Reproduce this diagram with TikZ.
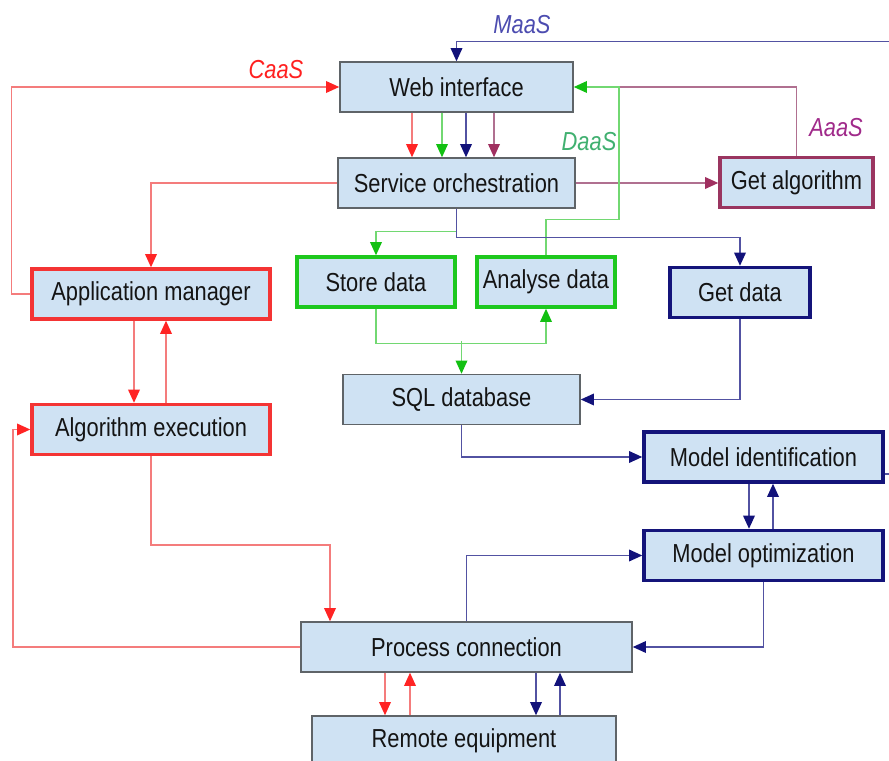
\documentclass[tikz,border=0pt]{standalone}
\usepackage{fontspec}
\setmainfont{Liberation Sans}[FakeStretch=0.84]
\usetikzlibrary{arrows.meta,calc}

\definecolor{boxfill}{HTML}{CFE2F3}
\definecolor{boxgray}{HTML}{5F6468}
\definecolor{textdark}{HTML}{141414}
\definecolor{boxred}{HTML}{F43434}
\definecolor{boxgreen}{HTML}{1EC81E}
\definecolor{boxblue}{HTML}{14147A}
\definecolor{boxpurple}{HTML}{9A3560}
\definecolor{lnred}{HTML}{F47C7C}
\definecolor{tipred}{HTML}{FF2424}
\definecolor{lngreen}{HTML}{72D872}
\definecolor{tipgreen}{HTML}{12C012}
\definecolor{lnblue}{HTML}{5252A2}
\definecolor{tipblue}{HTML}{12127A}
\definecolor{lnpurple}{HTML}{B07090}
\definecolor{tippurple}{HTML}{A03060}
\definecolor{caascol}{HTML}{FF2020}
\definecolor{maascol}{HTML}{4C4CB0}
\definecolor{daascol}{HTML}{40B070}
\definecolor{aaascol}{HTML}{A02A8A}

\tikzset{
  box/.style={draw=boxgray, fill=boxfill, line width=1pt, minimum height=1.25cm,
    inner sep=1pt, text=textdark, font=\fontsize{18.5}{20}\selectfont},
  redbox/.style={box, draw=boxred, line width=2.4pt},
  greenbox/.style={box, draw=boxgreen, line width=2.4pt},
  bluebox/.style={box, draw=boxblue, line width=2.4pt},
  purplebox/.style={box, draw=boxpurple, line width=2.4pt},
  tag/.style={font=\fontsize{18.5}{20}\selectfont\itshape},
  redln/.style={draw=lnred, line width=1.1pt, -{Triangle[length=0.33cm,width=0.29cm,color=tipred]}},
  greenln/.style={draw=lngreen, line width=1.1pt, -{Triangle[length=0.33cm,width=0.29cm,color=tipgreen]}},
  blueln/.style={draw=lnblue, line width=1.1pt, -{Triangle[length=0.33cm,width=0.29cm,color=tipblue]}},
  purpleln/.style={draw=lnpurple, line width=1.1pt, -{Triangle[length=0.33cm,width=0.29cm,color=tippurple]}},
  purpleplain/.style={draw=lnpurple, line width=1.1pt}
}

\begin{document}
\begin{tikzpicture}[x=0.025cm, y=-0.025cm]
\path[use as bounding box, fill=white] (0,0) rectangle (889,761);

% boxes
\node[box, minimum width=5.825cm] (web) at (456.5,87) {Web interface};
\node[box, minimum width=5.925cm] (orch) at (456.5,183) {Service orchestration};
\node[purplebox, minimum width=3.825cm] (getalg) at (796.5,182.5) {Get algorithm};
\node[redbox, minimum width=5.95cm] (appman) at (151,294) {Application manager};
\node[redbox, minimum width=5.95cm] (algexec) at (151,429.5) {Algorithm execution};
\node[greenbox, minimum width=3.95cm] (store) at (376,282) {Store data};
\node[greenbox, minimum width=3.45cm] (analyse) at (546,282) {Analyse data};
\node[bluebox, minimum width=3.5cm] (getdata) at (740,292.5) {Get data};
\node[box, minimum width=5.925cm] (sql) at (461.5,399.5) {SQL database};
\node[bluebox, minimum width=5.975cm] (modid) at (763.5,457) {Model identification};
\node[bluebox, minimum width=5.975cm] (modopt) at (763.5,555.5) {Model optimization};
\node[box, minimum width=8.275cm] (proc) at (466.5,647) {Process connection};
\node[box, minimum width=7.6cm] (remote) at (464,741) {Remote equipment};

% service labels
\node[tag, text=caascol] (caas) at (276,70) {CaaS};
\node[tag, text=maascol] (maas) at (522,25) {MaaS};
\node[tag, text=daascol] (daas) at (589,142) {DaaS};
\node[tag, text=aaascol] (aaas) at (836,128) {AaaS};

% web interface -> orchestration
\foreach \x/\s in {412/redln, 442/greenln, 466/blueln, 494/purpleln}
  \draw[\s] (web.south -| \x,0) -- (orch.north -| \x,0);

% CaaS
\draw[redln] (appman.west) -- ++(-19,0) |- (web.west);
\draw[redln] (orch.west) -| (appman.north);
\draw[redln] (appman.south -| 134,0) -- (algexec.north -| 134,0);
\draw[redln] (algexec.north -| 166,0) -- (appman.south -| 166,0);
\draw[redln] (algexec.south) -- ++(0,89) -| (proc.north -| 330,0);
\draw[redln] (proc.west) -- (proc.west -| 13,0) |- (algexec.west);
\draw[redln] (proc.south -| 385,0) -- (remote.north -| 385,0);
\draw[redln] (remote.north -| 410,0) -- (proc.south -| 410,0);

% AaaS
\draw[purpleln] (orch.east) -- (orch.east -| getalg.west);
\draw[purpleplain] (getalg.north) |- ($(web.east)+(45,0)$);

% DaaS
\draw[greenln] ($(orch.south)+(0,23)$) -| (store.north);
\draw[greenln] (analyse.north) -- ++(0,-36) -| ($(web.east)+(45,0)$) -- (web.east);
\draw[greenln] (store.south) -- ++(0,35) -| (analyse.south);
\draw[greenln] ($(sql.north)+(0,-33)$) -- (sql.north);

% MaaS
\draw[blueln] (orch.south) -- ++(0,29) -| (getdata.north);
\draw[blueln] (getdata.south) |- (sql.east);
\draw[blueln] (sql.south) |- (modid.west);
\draw[blueln] (modid.south -| 749,0) -- (modopt.north -| 749,0);
\draw[blueln] (modopt.north -| 773,0) -- (modid.south -| 773,0);
\draw[blueln] (proc.north) |- (modopt.west);
\draw[blueln] (modopt.south) |- (proc.east);
\draw[blueln] (proc.south -| 536,0) -- (remote.north -| 536,0);
\draw[blueln] (remote.north -| 560,0) -- (proc.south -| 560,0);
\draw[blueln] ($(modid.east)+(0,17)$) -- ++(20,0) |- ($(web.north)+(0,-20)$) -- (web.north);
\end{tikzpicture}
\end{document}
